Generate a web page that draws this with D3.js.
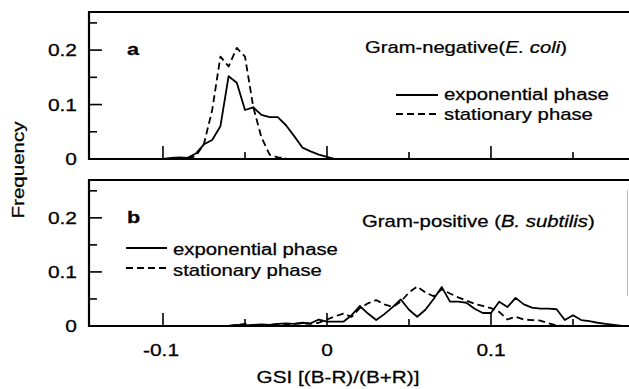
<!DOCTYPE html>
<html>
<head>
<meta charset="utf-8">
<script src="https://cdn.jsdelivr.net/npm/d3@7"></script>
<style>
  body { margin: 0; background: #fff; }
  svg { display: block; font-family: "Liberation Sans", Arial, sans-serif; }
</style>
</head>
<body>
<svg id="chart" width="629" height="389"></svg>
<script>
// panel a: Gram-negative (E. coli)
const gsiAExp = [-0.1, -0.095, -0.09, -0.085, -0.08, -0.075, -0.07, -0.065, -0.06, -0.055, -0.05, -0.045,
                 -0.04, -0.035, -0.03, -0.025, -0.02, -0.015, -0.01, -0.005, 0, 0.005];
const expA = [0, 0.002, 0.003, 0.002, 0.01, 0.027, 0.035, 0.06, 0.152, 0.14, 0.09, 0.095,
              0.081, 0.077, 0.077, 0.062, 0.042, 0.021, 0.014, 0.008, 0.004, 0];
const gsiAStat = [-0.085, -0.08, -0.075, -0.07, -0.065, -0.06, -0.055, -0.05, -0.045, -0.04, -0.035, -0.03, -0.025];
const statA = [0.002, 0.005, 0.028, 0.09, 0.188, 0.17, 0.204, 0.188, 0.096, 0.04, 0.008, 0.003, 0.002];

// panel b: Gram-positive (B. subtilis)
const gsiB = [-0.06, -0.055, -0.05, -0.045, -0.04, -0.035, -0.03, -0.025, -0.02, -0.015, -0.01, -0.005,
              0, 0.005, 0.01, 0.015, 0.02, 0.025, 0.03, 0.035, 0.04, 0.045, 0.05, 0.055,
              0.06, 0.065, 0.07, 0.075, 0.08, 0.085, 0.09, 0.095, 0.1, 0.105, 0.11, 0.115,
              0.12, 0.125, 0.13, 0.135, 0.14, 0.145, 0.15, 0.155, 0.16, 0.165, 0.17, 0.175, 0.18];
const expB = [0, 0.002, 0.001, 0.002, 0.003, 0.002, 0.004, 0.005, 0.004, 0.006, 0.005, 0.012,
              0.008, 0.008, 0.008, 0.02, 0.037, 0.023, 0.011, 0.022, 0.035, 0.049, 0.03, 0.017,
              0.03, 0.05, 0.072, 0.045, 0.045, 0.043, 0.032, 0.024, 0.024, 0.045, 0.035, 0.052,
              0.04, 0.034, 0.032, 0.032, 0.031, 0.011, 0.02, 0.011, 0.009, 0.006, 0.004, 0.002, 0];
const statB = [0, 0.002, 0.004, 0.001, 0.002, 0.002, 0.003, 0.003, 0.004, 0.005, 0.004, 0.006,
               0.012, 0.018, 0.023, 0.017, 0.033, 0.042, 0.048, 0.04, 0.035, 0.045, 0.062, 0.073,
               0.062, 0.055, 0.068, 0.06, 0.053, 0.047, 0.041, 0.037, 0.033, 0.026, 0.012, 0.017,
               0.012, 0.011, 0.01, 0.005, 0.001, 0];

const xMajor = [-0.1, 0, 0.1];
const xMinor = [-0.05, 0.05, 0.15];
const xTickLabels = ['-0.1', '0', '0.1'];
const yMajor = [0, 0.1, 0.2];
const yTickLabels = ['0', '0.1', '0.2'];
const yMinor = [0.05, 0.15, 0.25];
const legendLabels = ['exponential phase', 'stationary phase'];

const svg = d3.select('#chart');
const STRETCH = 1.27; // glyphs in the figure are wider than Arial
const left = 89, right = 629;

const x = d3.scaleLinear().domain([-0.1, 0.1]).range([163, 491]);

const panels = [
    { top: 12, bottom: 159, letter: 'a', rightBorder: false,
      series: [{ xs: gsiAExp, ys: expA, dash: null }, { xs: gsiAStat, ys: statA, dash: '7,4' }] },
    { top: 180, bottom: 326, letter: 'b', rightBorder: true,
      series: [{ xs: gsiB, ys: expB, dash: null }, { xs: gsiB.slice(0, statB.length), ys: statB, dash: '7,4' }] }
];

// text is drawn at 16px and widened horizontally; if a width is given, it is fitted to it
function label(g, txt, px, py, anchor, opts = {}) {
    const t = g.append('text')
        .attr('text-anchor', anchor)
        .attr('font-size', (opts.size || 16) + 'px')
        .attr('font-weight', opts.bold ? 'bold' : 'normal')
        .attr('fill', '#000')
        .attr('stroke', '#000')
        .attr('stroke-width', 0.25);
    if (Array.isArray(txt)) {
        txt.forEach(p => t.append('tspan').attr('font-style', p.italic ? 'italic' : 'normal').text(p.s));
    } else {
        t.text(txt);
    }
    const k = opts.width ? opts.width / t.node().getComputedTextLength() : STRETCH;
    t.attr('transform', `translate(${px},${py})${opts.rotate ? ' rotate(-90)' : ''} scale(${k},1)`);
    return t;
}

panels.forEach(p => {
    const y = d3.scaleLinear().domain([0, 0.27]).range([p.bottom, p.top]);
    const g = svg.append('g');

    // frame
    g.append('path')
        .attr('d', `M${right + 2},${p.top}H${left}V${p.bottom}H${right + 2}`)
        .attr('fill', 'none').attr('stroke', '#000').attr('stroke-width', 2.2);
    if (p.rightBorder) {
        g.append('line').attr('x1', right - 1.5).attr('x2', right - 1.5)
            .attr('y1', p.top + 10).attr('y2', p.bottom - 30)
            .attr('stroke', '#bbb').attr('stroke-width', 1);
    }

    // inward ticks
    xMajor.forEach(v => g.append('line').attr('x1', x(v)).attr('x2', x(v))
        .attr('y1', p.bottom).attr('y2', p.bottom - 13).attr('stroke', '#000').attr('stroke-width', 1.6));
    xMinor.forEach(v => g.append('line').attr('x1', x(v)).attr('x2', x(v))
        .attr('y1', p.bottom).attr('y2', p.bottom - 7).attr('stroke', '#000').attr('stroke-width', 1.6));
    yMajor.slice(1).forEach(v => g.append('line').attr('x1', left).attr('x2', left + 13)
        .attr('y1', y(v)).attr('y2', y(v)).attr('stroke', '#000').attr('stroke-width', 1.6));
    yMinor.forEach(v => g.append('line').attr('x1', left).attr('x2', left + 8)
        .attr('y1', y(v)).attr('y2', y(v)).attr('stroke', '#000').attr('stroke-width', 1.6));

    // y tick labels
    yMajor.forEach((v, i) => label(g, yTickLabels[i], 77, y(v) + 6, 'end', { size: 16.5 }));

    // data
    const line = d3.line().x(d => x(d[0])).y(d => y(d[1]));
    p.series.forEach(s => {
        g.append('path')
            .datum(s.xs.map((v, i) => [v, s.ys[i]]))
            .attr('d', line)
            .attr('fill', 'none')
            .attr('stroke', '#000')
            .attr('stroke-width', 1.8)
            .attr('stroke-linejoin', 'round')
            .attr('stroke-dasharray', s.dash);
    });

    label(g, p.letter, 127, y(0.2) + 5, 'start', { bold: true, size: 17 });
});

// panel titles and legends
const gA = svg.append('g');
label(gA, [{ s: 'Gram-negative' }, { s: '(' }, { s: 'E. coli', italic: true }, { s: ')' }], 365, 53, 'start', { width: 202 });
[0, 1].forEach(i => {
    gA.append('line').attr('x1', 396).attr('x2', 438).attr('y1', 95 + i * 19).attr('y2', 95 + i * 19)
        .attr('stroke', '#000').attr('stroke-width', 1.8).attr('stroke-dasharray', i ? '7,4' : null);
    label(gA, legendLabels[i], 444, 100 + i * 20, 'start', { width: i ? 149 : 165 });
});

const gB = svg.append('g');
label(gB, [{ s: 'Gram-positive (' }, { s: 'B. subtilis', italic: true }, { s: ')' }], 362, 227, 'start', { width: 233 });
[0, 1].forEach(i => {
    gB.append('line').attr('x1', 126).attr('x2', 167).attr('y1', 248 + i * 20).attr('y2', 248 + i * 20)
        .attr('stroke', '#000').attr('stroke-width', 1.8).attr('stroke-dasharray', i ? '7,4' : null);
    label(gB, legendLabels[i], 173, 255 + i * 21, 'start', { width: i ? 149 : 165 });
});

// x tick labels and axis titles
xMajor.forEach((v, i) => label(svg, xTickLabels[i], x(v) - (v < 0 ? 2 : 0), 356, 'middle', { size: 16.5 }));
label(svg, 'GSI [(B-R)/(B+R)]', 338, 383, 'middle', { width: 163 });
label(svg, 'Frequency', 24, 170, 'middle', { rotate: true, width: 97 });
</script>
</body>
</html>
